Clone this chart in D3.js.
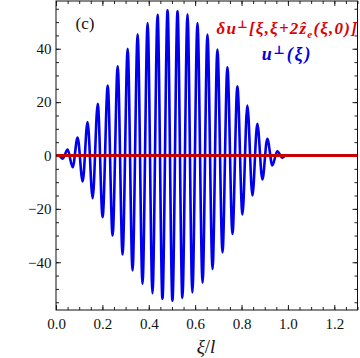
<!DOCTYPE html>
<html>
<head>
<meta charset="utf-8">
<script src="https://cdn.jsdelivr.net/npm/d3@7"></script>
<style>
  body { margin: 0; background: #fff; }
  text { font-family: "Liberation Serif", "DejaVu Serif", serif; }
</style>
</head>
<body>
<script>
// Width and height
var w = 360;
var h = 358;

// Data: extrema of u(xi)
var waveX = [0.0, 0.012, 0.029, 0.050, 0.072, 0.093, 0.115, 0.136, 0.158, 0.180, 0.201, 0.223,
             0.244, 0.266, 0.287, 0.309, 0.330, 0.352, 0.373, 0.395, 0.416, 0.438,
             0.459, 0.481, 0.502, 0.524, 0.545, 0.567, 0.588, 0.610, 0.632, 0.653,
             0.675, 0.696, 0.718, 0.739, 0.761, 0.782, 0.804, 0.825, 0.847, 0.868,
             0.890, 0.911, 0.933, 0.954, 0.976, 0.990, 1.3];
var waveY = [0, 0, -1.2, 2.2, -4.4, 6.7, -9.7, 12.5, -16, 19.4, -23.1, 26.2,
             -30, 33.4, -37.1, 40, -43.1, 45.4, -48.1, 49.6, -51.6, 52.7,
             -53.7, 54.4, -54.4, 54, -53.4, 52.9, -51.3, 49.6, -47.7, 45.3,
             -42.5, 39.7, -36.3, 33.1, -29.4, 25.9, -22.1, 18.7, -15, 11.9,
             -9, 6.3, -3.7, 1.6, -0.8, 0, 0];
// delta u along the line: zero everywhere
var deltaX = [0, 1.3];
var deltaY = [0, 0];

var xTicks = [0, 0.2, 0.4, 0.6, 0.8, 1.0, 1.2];
var yTicks = [-40, -20, 0, 20, 40];

// Plot frame
var pLeft = 56, pRight = 357.5, pTop = 1, pBottom = 310;

var x = d3.scaleLinear().domain([0, 1.3]).range([pLeft, pRight]);
var y = d3.scaleLinear().domain([-57.9, 57.9]).range([pBottom, pTop]);

var svg = d3.select("body")
            .append("svg")
            .attr("width", w)
            .attr("height", h);

var xMinor = d3.range(0, 1.3001, 0.05);
var yMinor = d3.range(-55, 55.01, 5);
var fmt = d3.format(".1f");

// Axes, ticks pointing inwards on all four sides
function addAxis(axis, tx, ty) {
  var g = svg.append("g").attr("transform", "translate(" + tx + "," + ty + ")").call(axis);
  g.select(".domain").remove();
  g.selectAll("line").attr("stroke", "#222");
  g.selectAll("text").attr("font-size", "15px").attr("fill", "#111")
   .attr("font-family", "Liberation Serif");
  return g;
}

// minor ticks
addAxis(d3.axisBottom(x).tickValues(xMinor).tickSize(-3).tickFormat(""), 0, pBottom);
addAxis(d3.axisTop(x).tickValues(xMinor).tickSize(-3).tickFormat(""), 0, pTop);
addAxis(d3.axisLeft(y).tickValues(yMinor).tickSize(-3).tickFormat(""), pLeft, 0);
addAxis(d3.axisRight(y).tickValues(yMinor).tickSize(-3).tickFormat(""), pRight, 0);
// major ticks
addAxis(d3.axisBottom(x).tickValues(xTicks).tickSize(-5).tickPadding(8).tickFormat(fmt), 0, pBottom);
addAxis(d3.axisTop(x).tickValues(xTicks).tickSize(-5).tickFormat(""), 0, pTop);
addAxis(d3.axisLeft(y).tickValues(yTicks).tickSize(-5).tickPadding(4.5), pLeft, 0);
addAxis(d3.axisRight(y).tickValues(yTicks).tickSize(-5).tickFormat(""), pRight, 0);

// Curves
var wave = waveX.map(function(d, i) { return [d, waveY[i]]; });
var delta = deltaX.map(function(d, i) { return [d, deltaY[i]]; });

var line = d3.line()
             .x(function(d) { return x(d[0]); })
             .y(function(d) { return y(d[1]); })
             .curve(d3.curveMonotoneX);

svg.append("path")
   .datum(wave)
   .attr("d", line)
   .attr("fill", "none")
   .attr("stroke", "#0000ee")
   .attr("stroke-width", 2.6);

svg.append("path")
   .datum(delta)
   .attr("d", line)
   .attr("fill", "none")
   .attr("stroke", "#c80000")
   .attr("stroke-width", 3);

// Frame
svg.append("rect")
   .attr("x", pLeft).attr("y", pTop)
   .attr("width", pRight - pLeft).attr("height", pBottom - pTop)
   .attr("fill", "none")
   .attr("stroke", "#111")
   .attr("stroke-width", 1);

// Panel label
svg.append("text")
   .attr("x", 85).attr("y", 29)
   .attr("text-anchor", "middle")
   .attr("font-size", "17px")
   .attr("fill", "#111")
   .text("(c)");

// Legend
var red = svg.append("text")
   .attr("x", 358).attr("y", 34)
   .attr("text-anchor", "end")
   .attr("font-size", "17px")
   .attr("letter-spacing", "1.2px")
   .attr("font-style", "italic")
   .attr("font-weight", "bold")
   .attr("fill", "#dd0000");
red.append("tspan").text("δu");
red.append("tspan").attr("dy", -6).attr("font-size", "11px").text("⊥");
red.append("tspan").attr("dy", 6).text("[ξ,ξ+2ẑ");
red.append("tspan").attr("dy", 4).attr("font-size", "11px").text("e");
red.append("tspan").attr("dy", -4).text("(ξ,0)]");

var blue = svg.append("text")
   .attr("x", 287).attr("y", 60)
   .attr("text-anchor", "middle")
   .attr("font-size", "18px")
   .attr("letter-spacing", "1.8px")
   .attr("font-style", "italic")
   .attr("font-weight", "bold")
   .attr("fill", "#0000dd");
blue.append("tspan").text("u");
blue.append("tspan").attr("dy", -6).attr("font-size", "12px").text("⊥");
blue.append("tspan").attr("dy", 6).text("(ξ)");

// Axis title
var xt = svg.append("text")
   .attr("x", 206).attr("y", 353)
   .attr("text-anchor", "middle")
   .attr("font-size", "19px")
   .attr("font-style", "italic")
   .attr("fill", "#111");
xt.append("tspan").text("ξ");
xt.append("tspan").attr("font-style", "normal").text("/");
xt.append("tspan").text("l");
</script>
</body>
</html>
